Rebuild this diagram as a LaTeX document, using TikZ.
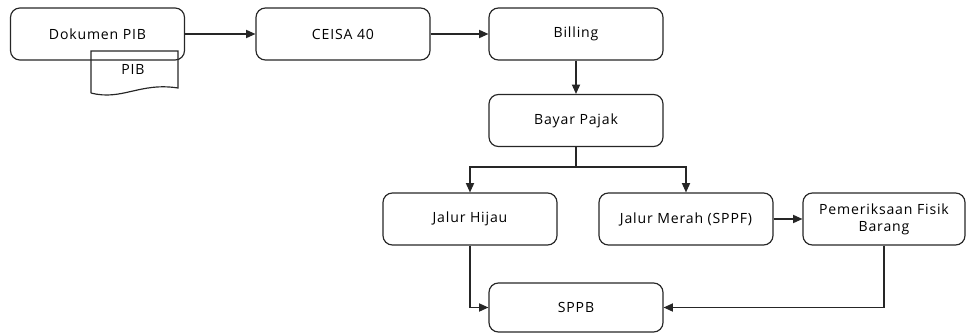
\documentclass[tikz,border=0pt]{standalone}
\usepackage{fontspec}
\setmainfont{Open Sans}[LetterSpace=6]
\usetikzlibrary{arrows.meta}
\tikzset{
  procbox/.style={draw,rounded corners=8pt,minimum width=5.22cm,minimum height=1.56cm,
    align=center,font=\fontsize{12pt}{14.5pt}\selectfont,inner sep=0pt},
  arr/.style={-{Triangle[length=8pt,width=7pt]}},
}
\begin{document}
\begin{tikzpicture}[x=0.03cm,y=-0.03cm,line width=1pt,draw=black!85]
      \useasboundingbox (0,0) rectangle (966,333);

      \node[procbox] (dok) at (97.5,34) {Dokumen PIB};
      \node[procbox] (ceisa) at (343,34) {CEISA 40};
      \node[procbox] (billing) at (576,34) {Billing};
      \node[procbox] (bayar) at (576,120.5) {Bayar Pajak};
      \node[procbox] (hijau) at (470,219) {Jalur Hijau};
      \node[procbox] (merah) at (686,219) {Jalur Merah (SPPF)};
      \node[procbox,minimum width=4.86cm] (periksa) at (884,219) {Pemeriksaan Fisik\\Barang};
      \node[procbox,minimum height=1.47cm] (sppb) at (576,307.5) {SPPB};

      % dokumen PIB
      \draw (91,93) -- (91,51) -- (178,51) -- (178,88)
        .. controls (140,82) and (122,101) .. (91,93);
      \node[font=\fontsize{12pt}{14.5pt}\selectfont] (pib) at (133,69) {PIB};

      \draw[arr] (dok) -- (ceisa);
      \draw[arr] (ceisa) -- (billing);
      \draw[arr] (billing) -- (bayar);
      \coordinate (split) at (576,167);
      \draw (bayar.south) -- (split);
      \draw[arr] (split) -| (hijau.north);
      \draw[arr] (split) -| (merah.north);
      \draw[arr] (merah) -- (periksa);
      \draw[arr] (hijau.south) |- (sppb.west);
      \draw[arr] (periksa.south) |- (sppb.east);
    \end{tikzpicture}
\end{document}
